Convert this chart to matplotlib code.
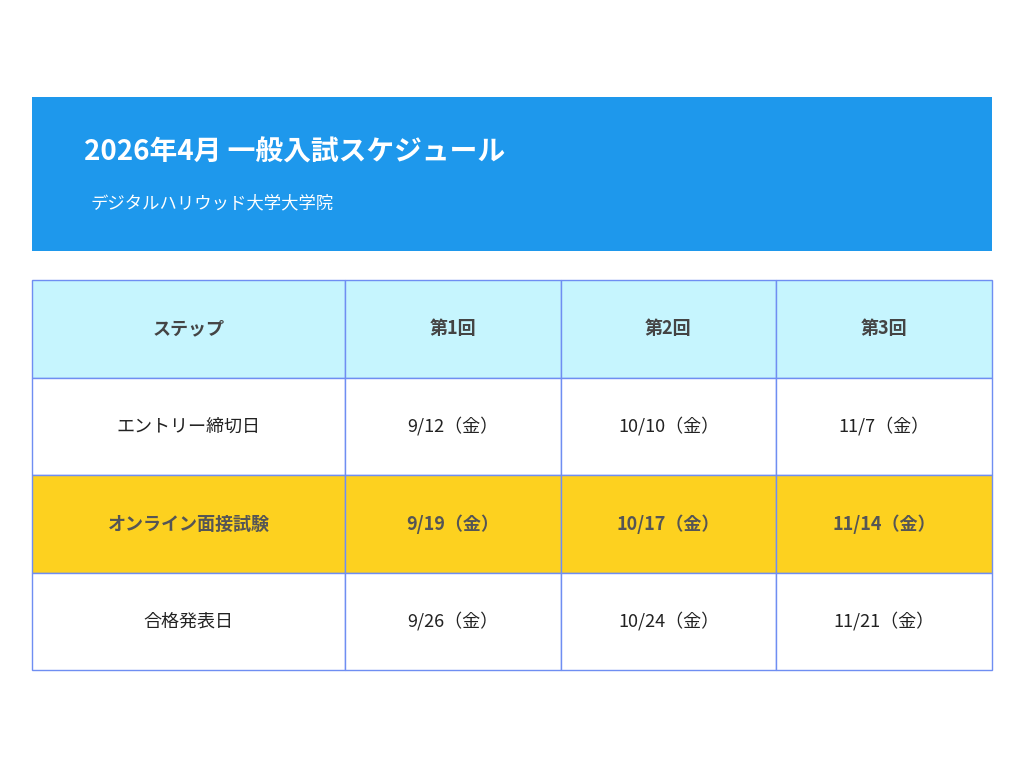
import matplotlib
matplotlib.use("Agg")
import matplotlib.pyplot as plt
from matplotlib.patches import Rectangle

plt.rcParams["font.family"] = "Noto Sans CJK JP"

title = "2026年4月 一般入試スケジュール"
subtitle = "デジタルハリウッド大学大学院"
columns = ["ステップ", "第1回", "第2回", "第3回"]
row_labels = ["エントリー締切日", "オンライン面接試験", "合格発表日"]
round1 = ["9/12（金）", "9/19（金）", "9/26（金）"]
round2 = ["10/10（金）", "10/17（金）", "10/24（金）"]
round3 = ["11/7（金）", "11/14（金）", "11/21（金）"]
highlight_row = 1

fig = plt.figure(figsize=(10.24, 7.68), dpi=100)
ax = fig.add_axes([0, 0, 1, 1])
ax.set_xlim(0, 1024)
ax.set_ylim(768, 0)
ax.axis("off")

ax.add_patch(Rectangle((32, 97), 960, 154, color="#1E98EC", lw=0))
ax.text(84, 153, title, color="white", fontsize=20, fontweight="bold", va="center")
ax.text(90, 203, subtitle, color="white", fontsize=12.5, va="center")

xs = [32, 345, 561, 776, 992]
ys = [280, 378, 475, 573, 670]
border = "#6F8EF2"
table = [columns] + [[row_labels[i], round1[i], round2[i], round3[i]] for i in range(3)]
for r, row in enumerate(table):
    if r == 0:
        bg, bold, col = "#C6F5FE", True, "#444444"
    elif r - 1 == highlight_row:
        bg, bold, col = "#FDD11F", True, "#555555"
    else:
        bg, bold, col = "white", False, "#222222"
    for c, txt in enumerate(row):
        ax.add_patch(Rectangle((xs[c], ys[r]), xs[c+1]-xs[c], ys[r+1]-ys[r],
                               facecolor=bg, edgecolor=border, lw=1))
        ax.text((xs[c]+xs[c+1])/2, (ys[r]+ys[r+1])/2, txt, ha="center", va="center",
                fontsize=13, color=col, fontweight="bold" if bold else "normal")

fig.savefig("out.png", dpi=100)
